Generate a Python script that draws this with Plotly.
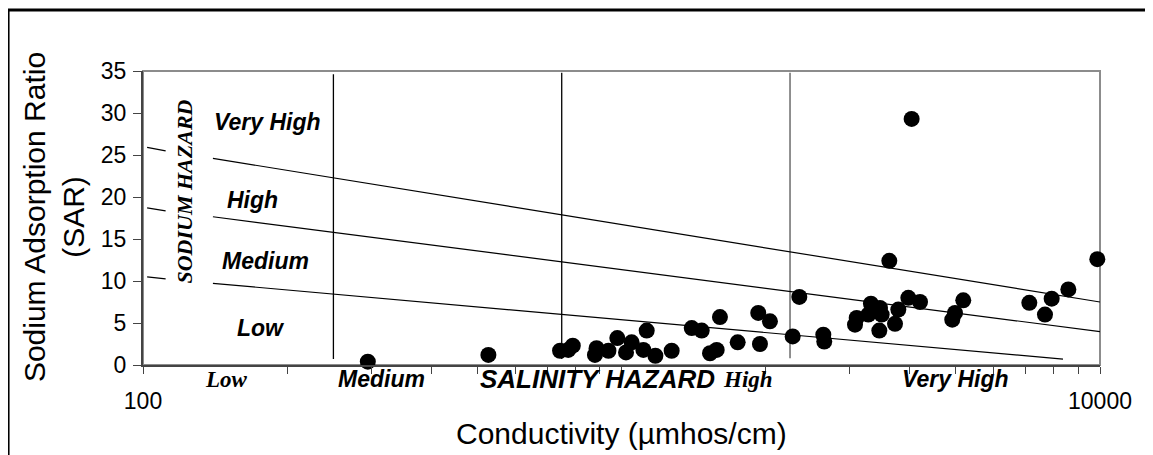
import math
import plotly.graph_objects as go

# ---- data ----
ec = [295, 527, 744, 774, 791, 887, 880, 939, 980, 1022, 1050, 1111, 1129, 1177,
      1273, 1402, 1471, 1531, 1581, 1606, 1749, 1931, 2043, 1947, 2279, 2353,
      2641, 2653, 3628, 3321, 3469, 3280, 3497, 3101, 3076, 3458, 3789, 3729,
      3976, 4206, 4040, 4977, 4912, 5179, 7117, 7674, 7925, 8587, 9872]
sar = [0.4, 1.2, 1.7, 1.8, 2.3, 2.0, 1.2, 1.7, 3.2, 1.5, 2.7, 1.8, 4.1, 1.1,
       1.7, 4.4, 4.1, 1.4, 1.8, 5.7, 2.7, 6.2, 5.2, 2.5, 3.4, 8.1,
       3.6, 2.8, 12.4, 7.3, 6.8, 6.0, 6.0, 5.6, 4.8, 4.1, 6.6, 4.9,
       8.0, 7.5, 29.3, 6.2, 5.4, 7.7, 7.4, 6.0, 7.9, 9.0, 12.6]

# salinity class boundaries (vertical lines)
salinity_bounds = [250, 750, 2250]
salinity_bound_sar = [[0.7, 34.6], [0.7, 34.8], [0.8, 34.8]]
salinity_bound_colors = ["black", "black", "#555555"]

# sodium hazard boundaries (sloping lines): short stub + main segment
stub_ec = [102, 111.5]
stub_sar = [[25.9, 25.5], [18.7, 18.35], [10.48, 10.25]]
main_ec = [[140, 10000], [140, 10000], [140, 8370]]
main_sar = [[24.6, 7.5], [17.65, 3.97], [9.72, 0.71]]

# class labels inside the plot (sodium hazard)
sodium_labels = ["Very High", "High", "Medium", "Low"]
sodium_label_ec = [182, 169, 180, 176.5]
sodium_label_sar = [28.9, 19.6, 12.4, 4.4]

# class labels under the axis (salinity hazard)
salinity_labels = ["Low", "Medium", "SALINITY HAZARD", "High", "Very High"]
salinity_label_ec = [149.5, 315, 893, 1837, 5000]
salinity_label_serif = [True, False, False, True, False]

x_tick_vals = [100, 200, 300, 400, 500, 600, 700, 800, 900,
               1000, 2000, 3000, 4000, 5000, 6000, 7000, 8000, 9000, 10000]
x_tick_text = ["100"] + [""] * 17 + ["10000"]

ARIAL = "Liberation Sans, Arial, sans-serif"
TIMES = "Liberation Serif, Times New Roman, serif"

fig = go.Figure()

for xb, ys, col in zip(salinity_bounds, salinity_bound_sar, salinity_bound_colors):
    fig.add_trace(go.Scatter(x=[xb, xb], y=ys, mode="lines",
                             line=dict(color=col, width=1.3), hoverinfo="skip",
                             showlegend=False))

for ss, me, ms in zip(stub_sar, main_ec, main_sar):
    fig.add_trace(go.Scatter(x=stub_ec, y=ss, mode="lines",
                             line=dict(color="black", width=1.2), hoverinfo="skip",
                             showlegend=False))
    fig.add_trace(go.Scatter(x=me, y=ms, mode="lines",
                             line=dict(color="black", width=1.2), hoverinfo="skip",
                             showlegend=False))

fig.add_trace(go.Scatter(x=ec, y=sar, mode="markers",
                         marker=dict(color="black", size=16, line=dict(width=0)),
                         cliponaxis=False, showlegend=False))

annotations = []
for t, xv, yv in zip(sodium_labels, sodium_label_ec, sodium_label_sar):
    annotations.append(dict(x=math.log10(xv), y=yv, xref="x", yref="y",
                            text="<b><i>%s</i></b>" % t, xanchor="center", yanchor="middle",
                            showarrow=False, font=dict(family=ARIAL, size=23, color="black")))

annotations.append(dict(x=math.log10(122.4), y=20.65, xref="x", yref="y",
                        text="<b><i>SODIUM HAZARD</i></b>", textangle=-90,
                        xanchor="center", yanchor="middle", showarrow=False,
                        font=dict(family=TIMES, size=22, color="black")))

for t, xv, serif in zip(salinity_labels, salinity_label_ec, salinity_label_serif):
    size = 26 if t == "SALINITY HAZARD" else 23
    annotations.append(dict(x=math.log10(xv), y=-0.048, xref="x", yref="paper",
                            text="<b><i>%s</i></b>" % t, xanchor="center", yanchor="middle",
                            showarrow=False,
                            font=dict(family=TIMES if serif else ARIAL, size=size, color="black")))

annotations.append(dict(x=-0.093, y=0.503, xref="paper", yref="paper",
                        xanchor="center", yanchor="middle",
                        text="Sodium Adsorption Ratio<br>(SAR)", textangle=-90,
                        showarrow=False, font=dict(family=ARIAL, size=30, color="black")))
annotations.append(dict(x=0.5, y=-0.232, xref="paper", yref="paper",
                        xanchor="center", yanchor="middle",
                        text="Conductivity (\u00b5mhos/cm)",
                        showarrow=False, font=dict(family=ARIAL, size=30, color="black")))

fig.update_layout(
    width=1153, height=455,
    margin=dict(l=135, r=61, t=63, b=98),
    paper_bgcolor="white", plot_bgcolor="white",
    showlegend=False,
    annotations=annotations,
    shapes=[
        dict(type="rect", xref="paper", yref="paper", x0=0, x1=1, y0=0, y1=1,
             line=dict(color="#8c8c8c", width=2), layer="below"),
        dict(type="rect", xref="paper", yref="paper", x0=-0.141, x1=1.12, y0=-0.35, y1=1.2075,
             line=dict(color="black", width=3)),
    ],
    xaxis=dict(type="log", range=[2, 4], tickmode="array", tickvals=x_tick_vals,
               ticktext=x_tick_text, ticks="outside", ticklen=7, tickcolor="#444",
               showline=True, linecolor="#444", linewidth=2, showgrid=False, zeroline=False,
               tickfont=dict(family=ARIAL, size=23, color="black"), ticklabelstandoff=7),
    yaxis=dict(range=[0, 35], tickmode="linear", tick0=0, dtick=5, ticks="outside",
               ticklen=8, tickcolor="#444", showline=True, linecolor="#444", linewidth=2,
               showgrid=False, zeroline=False,
               tickfont=dict(family=ARIAL, size=23, color="black"), ticklabelstandoff=2),
)

fig.write_html("out.html")
